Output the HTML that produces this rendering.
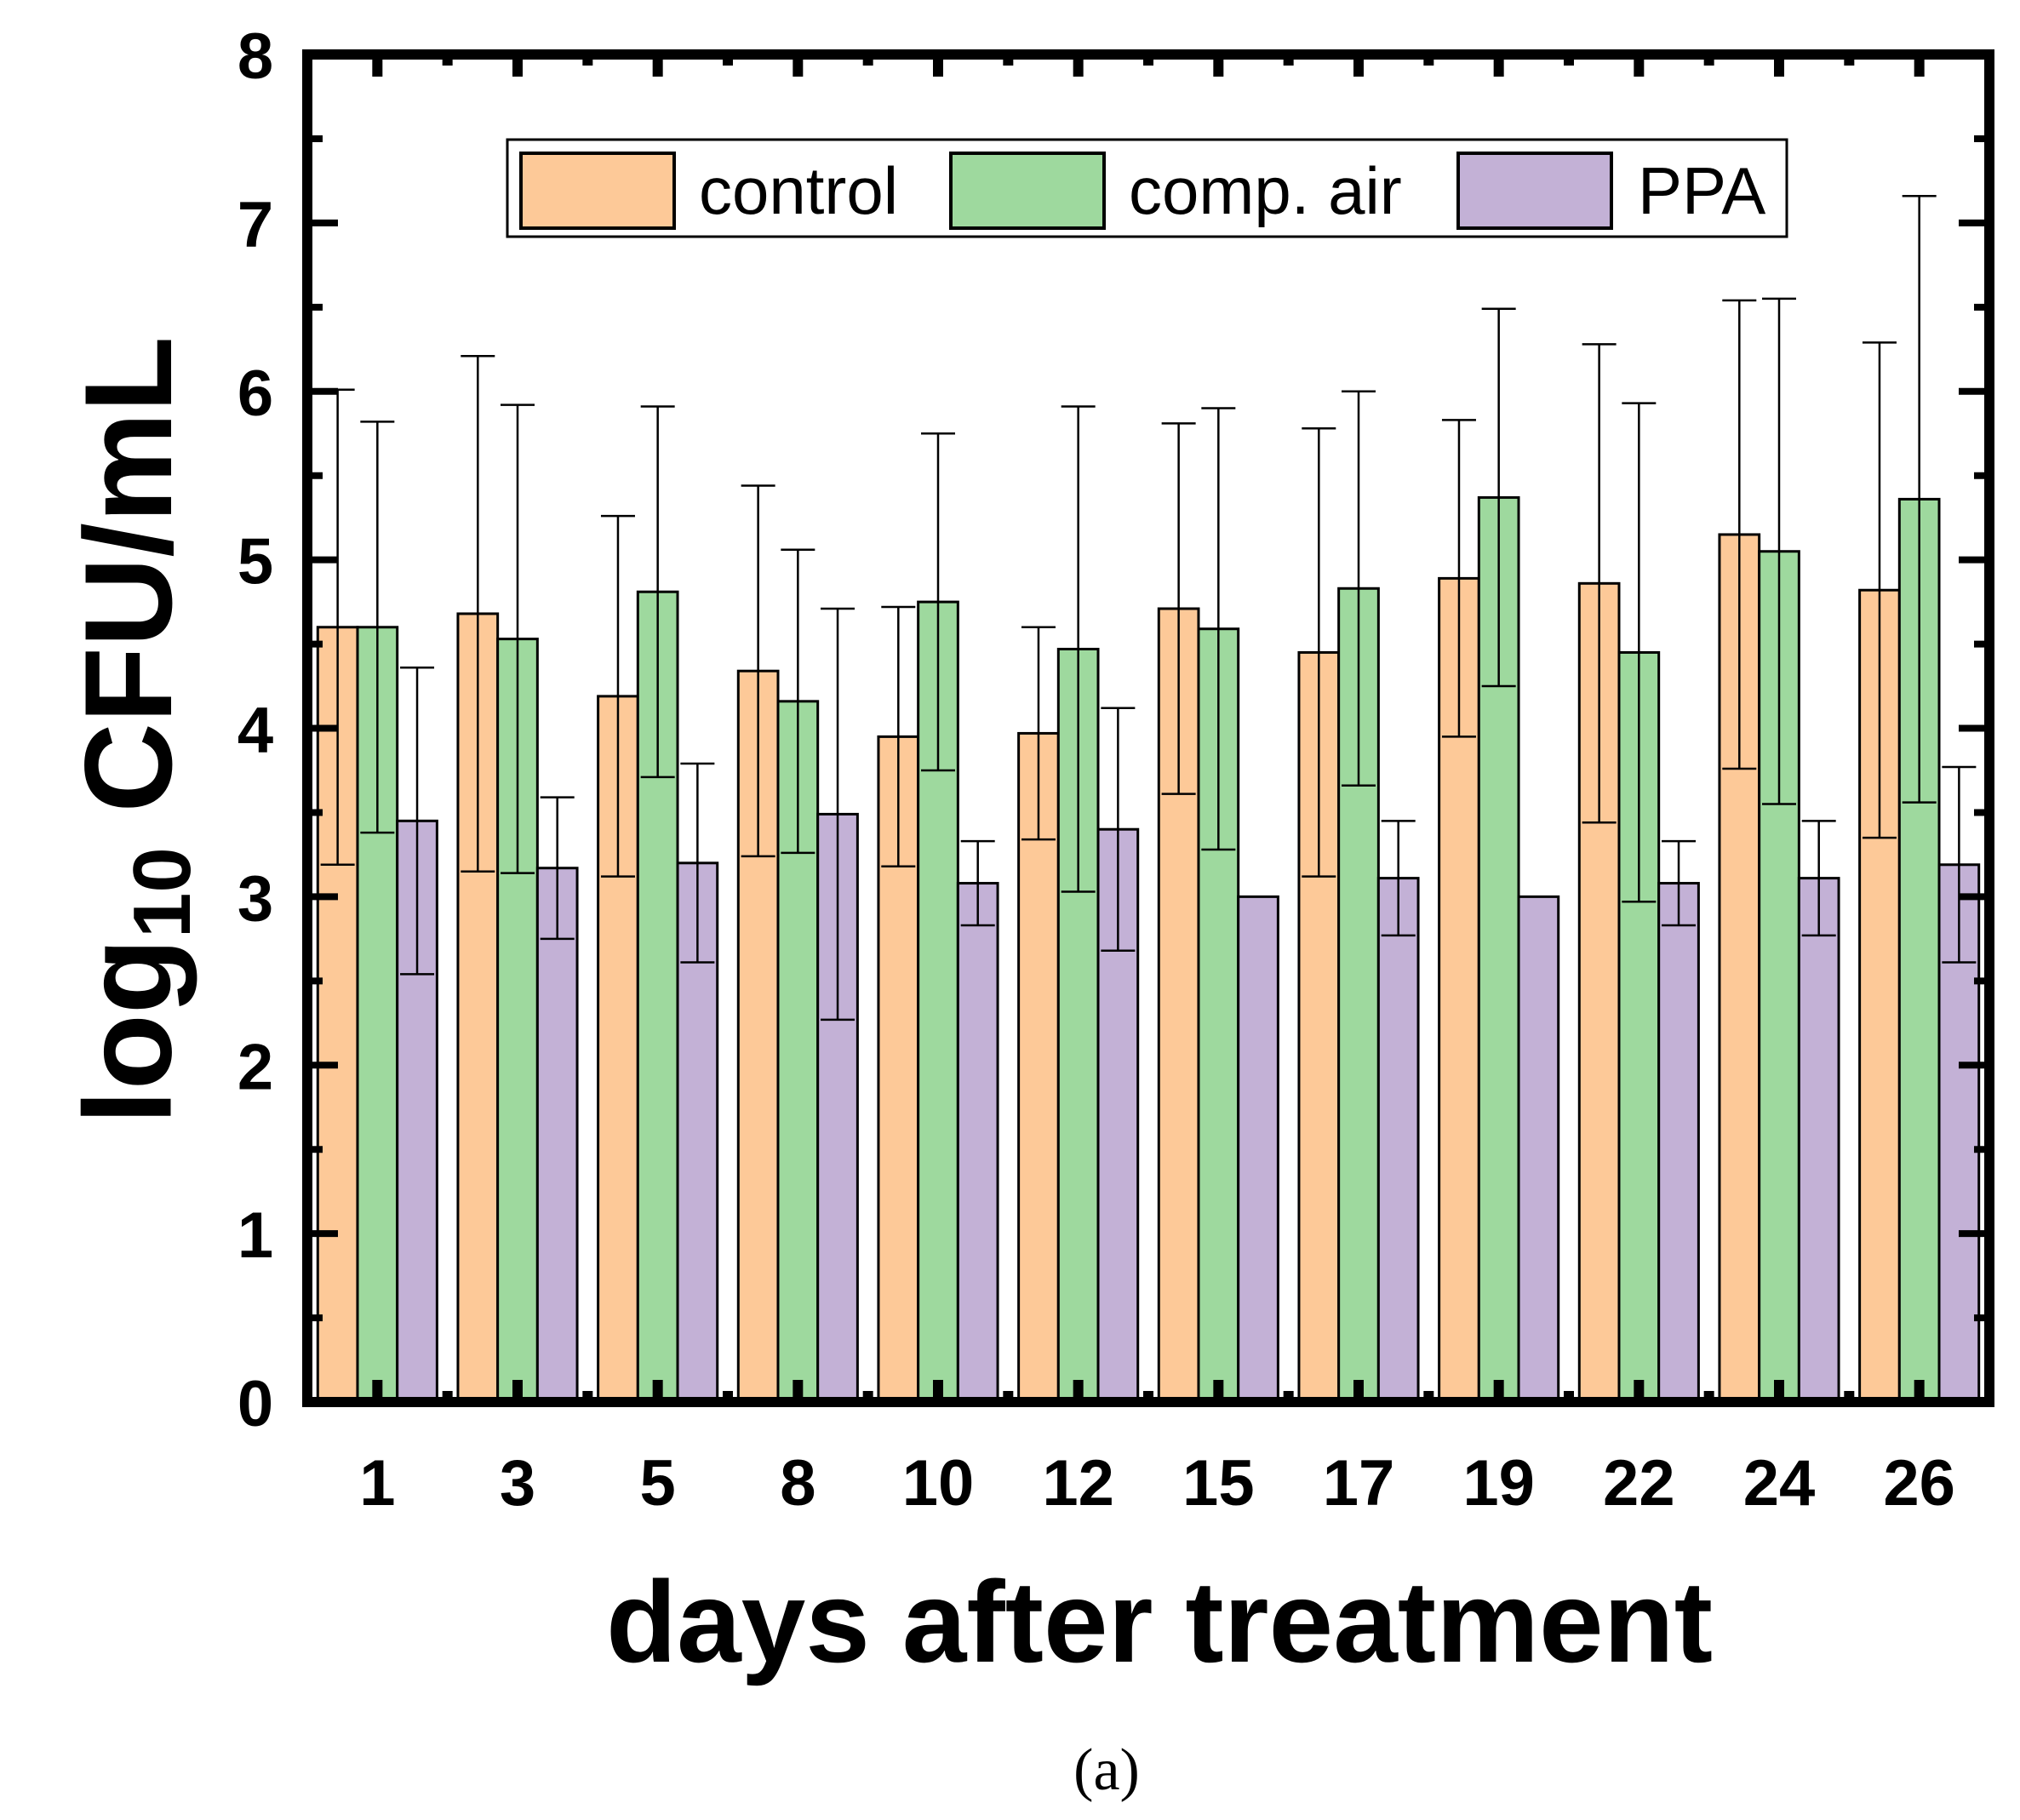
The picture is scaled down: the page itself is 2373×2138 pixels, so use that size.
<!DOCTYPE html>
<html><head><meta charset="utf-8">
<style>
html,body{margin:0;padding:0;background:#fff;}
svg{display:block;}
text{font-family:"Liberation Sans",Arial,sans-serif;}
</style></head>
<body>
<svg id="chart" width="2373" height="2138" viewBox="0 0 2373 2138" xmlns="http://www.w3.org/2000/svg">
  <g id="bars"></g>
  <g id="errs"></g>
  <g id="axes"></g>
  <text x="150" y="858" transform="rotate(-90 150 858)" text-anchor="middle" dominant-baseline="central" font-size="146" font-weight="bold">log<tspan font-size="96" dy="40">10</tspan><tspan dy="-40">  CFU/mL</tspan></text>
  <text x="1362" y="1952" text-anchor="middle" font-size="136" font-weight="bold">days after treatment</text>
  <text x="1300" y="2102" text-anchor="middle" font-size="70" style="font-family:'Liberation Serif',serif">(a)</text>
  <g>
    <rect x="596" y="164" width="1503" height="114" fill="#fff" stroke="#000" stroke-width="3"/>
    <rect x="612" y="180" width="180" height="88" fill="#FDC998" stroke="#000" stroke-width="4"/>
    <text x="821" y="251" font-size="78">control</text>
    <rect x="1117" y="180" width="180" height="88" fill="#9ED99E" stroke="#000" stroke-width="4"/>
    <text x="1326" y="251" font-size="78">comp. air</text>
    <rect x="1713" y="180" width="180" height="88" fill="#C3B1D6" stroke="#000" stroke-width="4"/>
    <text x="1924" y="251" font-size="78">PPA</text>
  </g>
</svg>
<script>
const categories = ["1","3","5","8","10","12","15","17","19","22","24","26"];
const controlVals = [4.60,4.68,4.19,4.34,3.95,3.97,4.71,4.45,4.89,4.86,5.15,4.82];
const controlErr  = [1.41,1.53,1.07,1.10,0.77,0.63,1.10,1.33,0.94,1.42,1.39,1.47];
const airVals     = [4.60,4.53,4.81,4.16,4.75,4.47,4.59,4.83,5.37,4.45,5.05,5.36];
const airErr      = [1.22,1.39,1.10,0.90,1.00,1.44,1.31,1.17,1.12,1.48,1.50,1.80];
const ppaVals     = [3.45,3.17,3.20,3.49,3.08,3.40,3.00,3.11,3.00,3.08,3.11,3.19];
const ppaErr      = [0.91,0.42,0.59,1.22,0.25,0.72,0,0.34,0,0.25,0.34,0.58];
const yTicks = [0,1,2,3,4,5,6,7,8];

const NS="http://www.w3.org/2000/svg";
const X0=361,X1=2337,Y0=1647,Y8=64;
const band=(X1-X0)/categories.length;
function yScale(v){return Y0-(v/8)*(Y0-Y8);}
function xCenter(i){return X0+band*(i+0.5);}
function mk(tag,attrs,parent){const e=document.createElementNS(NS,tag);for(const k in attrs)e.setAttribute(k,attrs[k]);parent.appendChild(e);return e;}
const gb=document.getElementById('bars'),ge=document.getElementById('errs'),ga=document.getElementById('axes');
const series=[{v:controlVals,e:controlErr,c:"#FDC998",n:"control"},{v:airVals,e:airErr,c:"#9ED99E",n:"comp-air"},{v:ppaVals,e:ppaErr,c:"#C3B1D6",n:"ppa"}];
const bw=46.7;
categories.forEach((cat,i)=>{
  series.forEach((s,j)=>{
    const x=xCenter(i)-1.5*bw+j*bw;
    const y=yScale(s.v[i]);
    const r=mk('rect',{x:x,y:y,width:bw,height:Y0-y,fill:s.c,stroke:"#000","stroke-width":3},gb);
    
    
    if(s.e[i]>0){
      const cx=x+bw/2, yt=yScale(s.v[i]+s.e[i]), yl=yScale(s.v[i]-s.e[i]);
      const g=mk('g',{},ge);
      
      
      mk('line',{x1:cx,x2:cx,y1:yt,y2:yl,stroke:"#000","stroke-width":2.5},g);
      mk('line',{x1:cx-20,x2:cx+20,y1:yt,y2:yt,stroke:"#000","stroke-width":2.5},g);
      mk('line',{x1:cx-20,x2:cx+20,y1:yl,y2:yl,stroke:"#000","stroke-width":2.5},g);
    }
  });
  const t=mk('text',{x:xCenter(i),y:1768,"text-anchor":"middle","font-size":76,"font-weight":"bold"},ga);
  t.textContent=cat;
  
  
  [Y0,Y8].forEach((yy,k)=>{const d=k?1:-1;mk('line',{x1:xCenter(i),x2:xCenter(i),y1:yy,y2:yy+d*26,stroke:"#000","stroke-width":12},ga);});
  if(i>0)[Y0,Y8].forEach((yy,k)=>{const d=k?1:-1;mk('line',{x1:X0+band*i,x2:X0+band*i,y1:yy,y2:yy+d*13,stroke:"#000","stroke-width":12},ga);});
});
yTicks.forEach(v=>{
  const y=yScale(v);
  [[X0,1],[X1,-1]].forEach(([xx,d])=>{mk('line',{x1:xx,x2:xx+d*36,y1:y,y2:y,stroke:"#000","stroke-width":8},ga);
    if(v<8)mk('line',{x1:xx,x2:xx+d*18,y1:yScale(v+0.5),y2:yScale(v+0.5),stroke:"#000","stroke-width":8},ga);});
  const t=mk('text',{x:300,y:y+28,"text-anchor":"middle","font-size":76,"font-weight":"bold"},ga);
  t.textContent=v;
  
  
});
const fr=mk('rect',{x:X0,y:Y8,width:X1-X0,height:Y0-Y8,fill:"none",stroke:"#000","stroke-width":12},ga);


</script>
</body></html>
